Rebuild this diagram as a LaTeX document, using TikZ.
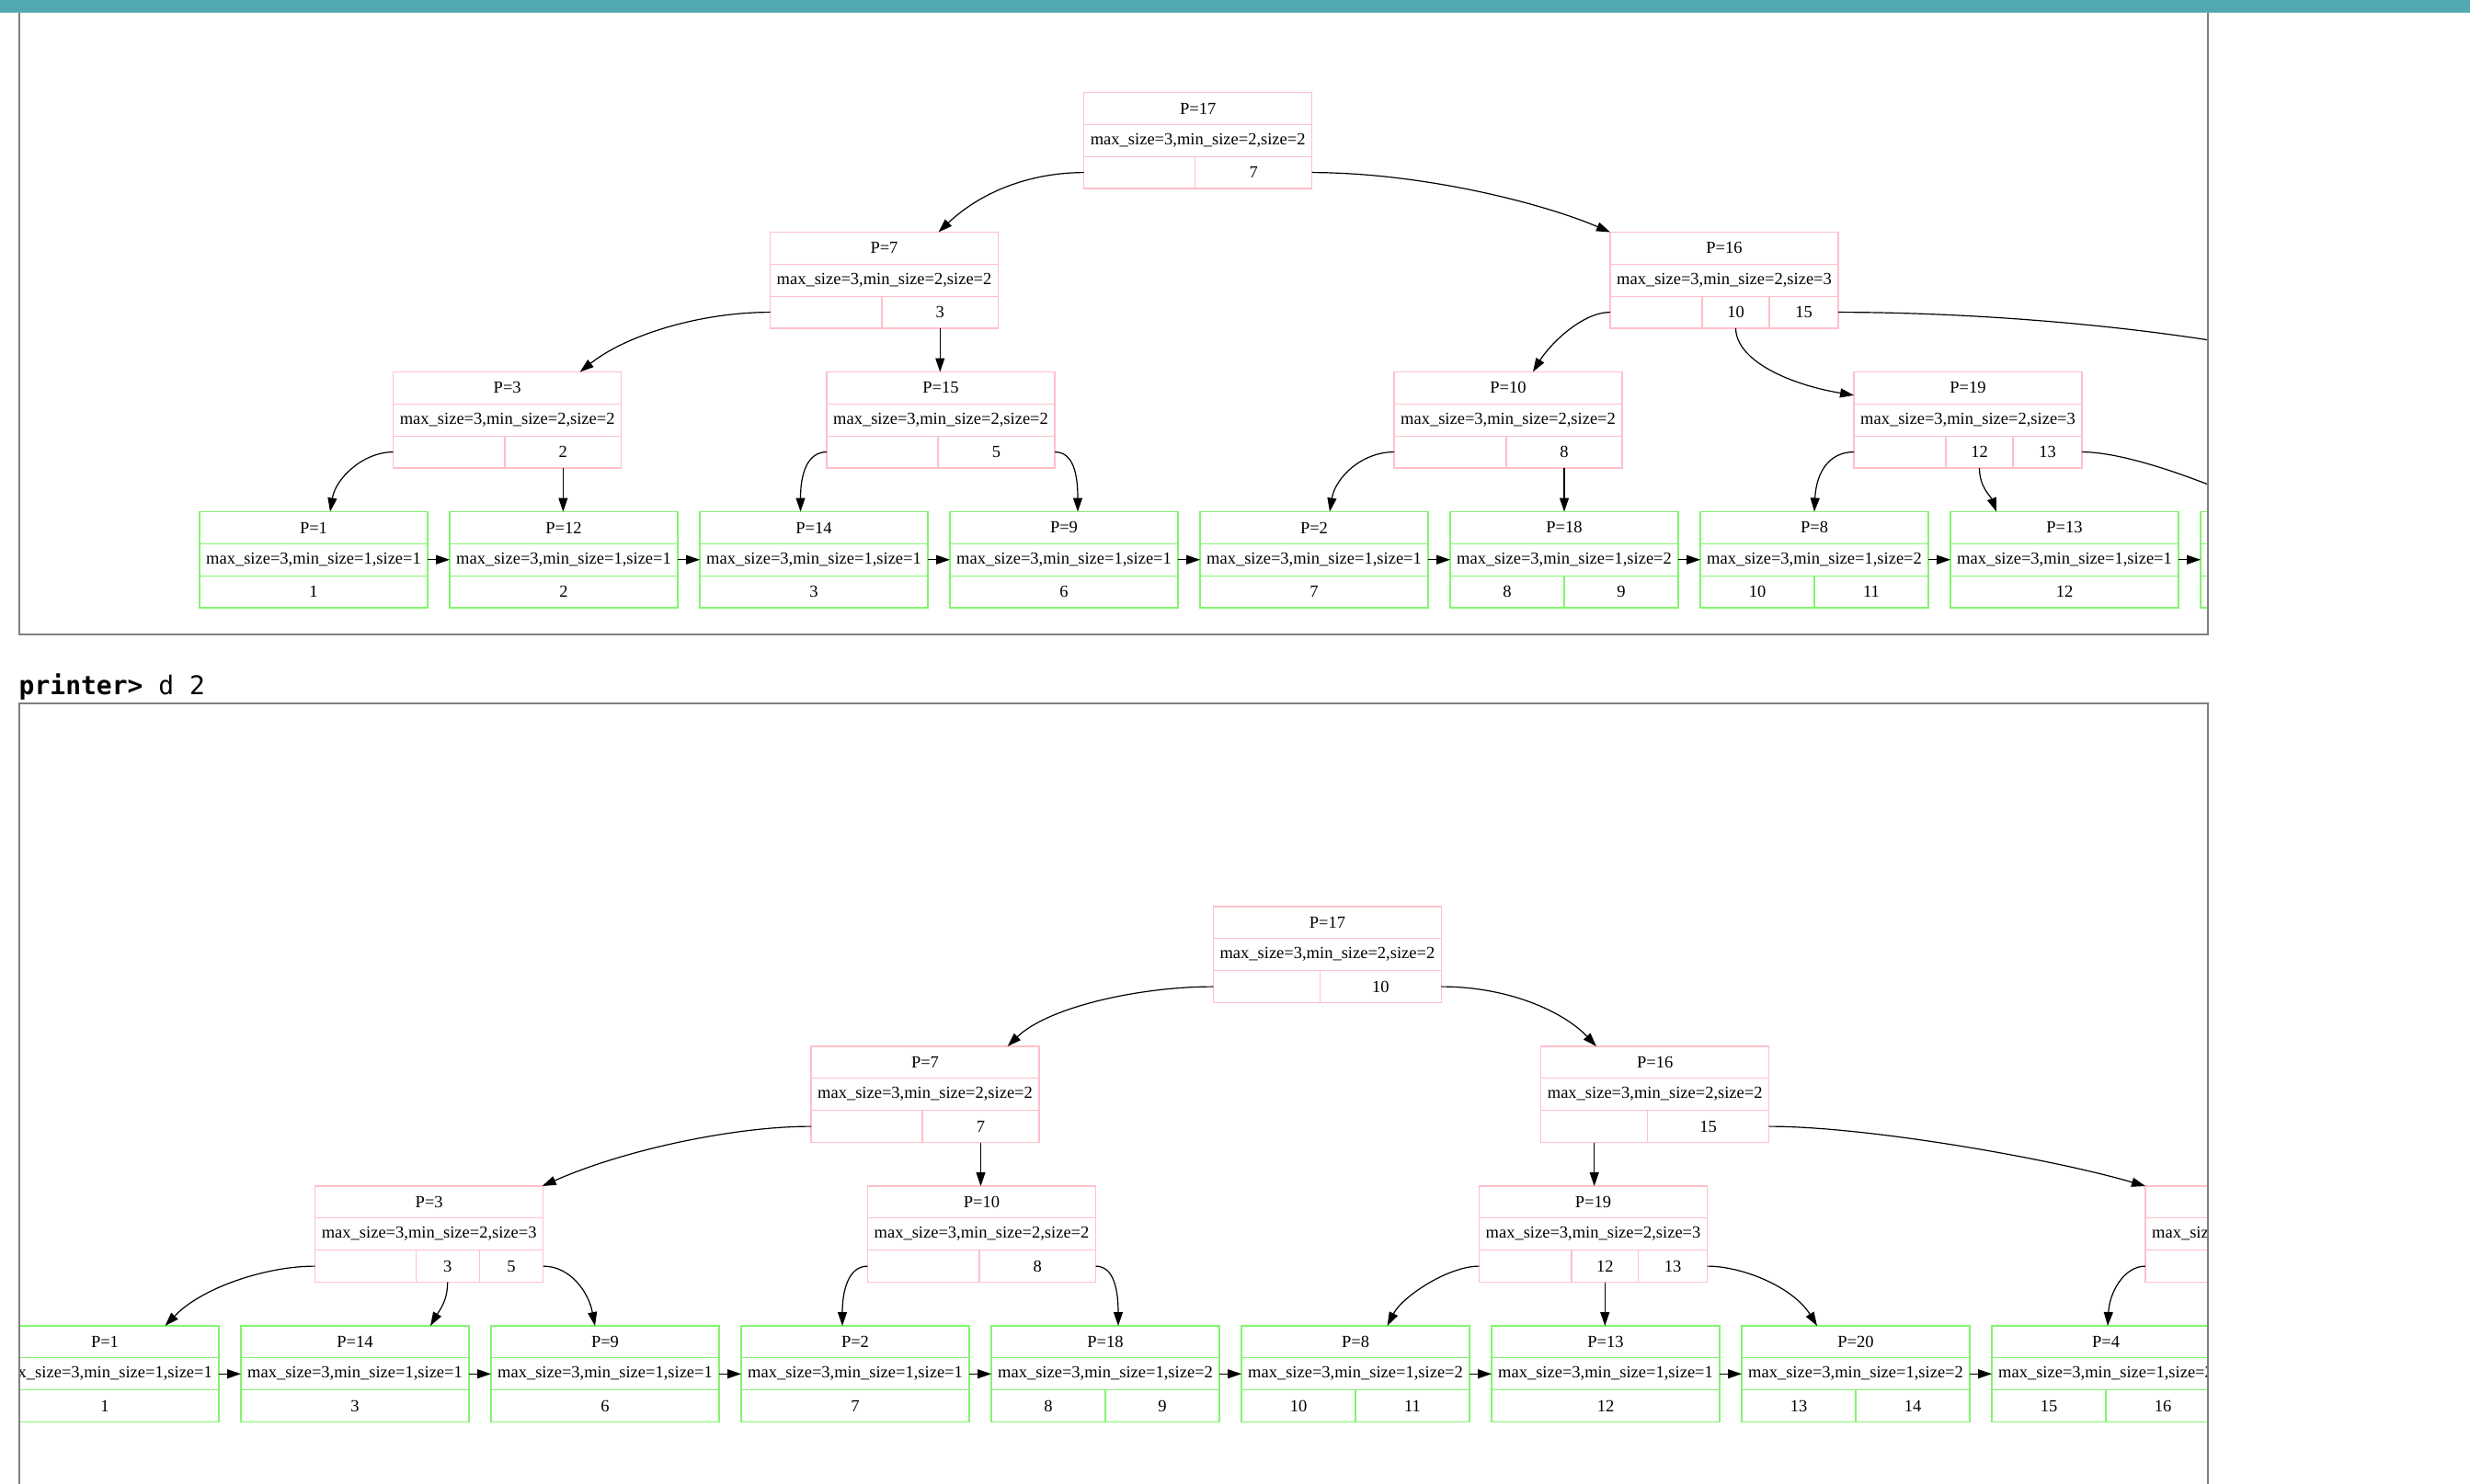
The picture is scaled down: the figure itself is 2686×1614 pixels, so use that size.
\documentclass[tikz,border=0pt]{standalone}
\usepackage{fontspec}
\setmainfont{Liberation Serif}
\newfontfamily\promptfont{DejaVu Sans Mono}
\usetikzlibrary{arrows.meta}
\definecolor{pinkc}{RGB}{255,192,203}
\definecolor{greenc}{RGB}{130,245,110}
\definecolor{framec}{RGB}{128,128,128}
\definecolor{tealc}{RGB}{82,168,176}
\definecolor{teallt}{RGB}{112,186,193}
\newcommand\cellfont{\fontsize{18.5}{20}\selectfont}
\tikzset{
  cellbase/.style={line width=1.2pt, inner sep=0pt, outer sep=0pt, anchor=north west, minimum height=34.83pt, font=\cellfont},
  pc/.style={cellbase, draw=pinkc},
  gc/.style={cellbase, draw=greenc},
  edge/.style={line width=1.2pt, -{Triangle[length=15pt,width=10pt]}},
  framebox/.style={draw=framec, line width=2pt},
}
% generic cell: style, name, x, y, width, text
\newcommand\Cell[6]{\node[#1, minimum width={(#5)*1pt}] (#2) at (#3,#4) {#6};}
% internal node with two key cells: prefix, x, y, P, size, first width, key
\newcommand\InTwo[7]{%
  \Cell{pc}{#1t}{#2}{#3}{248}{P=#4}%
  \Cell{pc}{#1m}{#2}{#3+34.83}{248}{max\_size=3,min\_size=2,size=#5}%
  \Cell{pc}{#1a}{#2}{#3+69.67}{#6}{}%
  \Cell{pc}{#1b}{#2+#6}{#3+69.67}{248-#6}{#7}}
% internal node with three key cells: prefix, x, y, P, size, w1, w2, key1, key2
\newcommand\InThree[9]{%
  \Cell{pc}{#1t}{#2}{#3}{248}{P=#4}%
  \Cell{pc}{#1m}{#2}{#3+34.83}{248}{max\_size=3,min\_size=2,size=#5}%
  \Cell{pc}{#1a}{#2}{#3+69.67}{#6}{}%
  \Cell{pc}{#1b}{#2+#6}{#3+69.67}{#7}{#8}%
  \Cell{pc}{#1c}{#2+#6+#7}{#3+69.67}{248-#6-#7}{#9}}
% leaf with one value: prefix, x, y, P, value
\newcommand\LfOne[5]{%
  \Cell{gc}{#1t}{#2}{#3}{248}{P=#4}%
  \Cell{gc}{#1m}{#2}{#3+34.83}{248}{max\_size=3,min\_size=1,size=1}%
  \Cell{gc}{#1a}{#2}{#3+69.67}{248}{#5}}
% leaf with two values: prefix, x, y, P, v1, v2
\newcommand\LfTwo[6]{%
  \Cell{gc}{#1t}{#2}{#3}{248}{P=#4}%
  \Cell{gc}{#1m}{#2}{#3+34.83}{248}{max\_size=3,min\_size=1,size=2}%
  \Cell{gc}{#1a}{#2}{#3+69.67}{124}{#5}%
  \Cell{gc}{#1b}{#2+124}{#3+69.67}{124}{#6}}
\begin{document}
\begin{tikzpicture}[x=1pt,y=-1pt]
\useasboundingbox (0,0) rectangle (2686,1614);
\fill[white] (0,0) rectangle (2686,1614);

% ================= upper frame =================
\begin{scope}
\clip (21,14) rectangle (2400,689);
\InTwo{a17}{1178.7}{100.5}{17}{2}{121}{7}
\InTwo{a7}{837.5}{252.5}{7}{2}{121.5}{3}
\InThree{a16}{1751}{252.5}{16}{3}{100}{73}{10}{15}
\InTwo{a3}{427.7}{404.5}{3}{2}{121.3}{2}
\InTwo{a15}{899}{404.5}{15}{2}{121}{5}
\InTwo{a10}{1516}{404.5}{10}{2}{122}{8}
\InThree{a19}{2016}{404.5}{19}{3}{100}{73}{12}{13}
\LfOne{aL1}{217}{556.5}{1}{1}
\LfOne{aL12}{489}{556.5}{12}{2}
\LfOne{aL14}{761}{556.5}{14}{3}
\LfOne{aL9}{1033}{556.5}{9}{6}
\LfOne{aL2}{1305}{556.5}{2}{7}
\LfTwo{aL18}{1577}{556.5}{18}{8}{9}
\LfTwo{aL8}{1849}{556.5}{8}{10}{11}
\LfOne{aL13}{2121}{556.5}{13}{12}
\Cell{gc}{aL20t}{2393}{556.5}{248}{}
\Cell{gc}{aL20m}{2393}{591.33}{248}{}
\Cell{gc}{aL20a}{2393}{626.17}{248}{}
\coordinate (a16out) at (2520,392);

\draw[edge] (a17a.west) .. controls (1110,188) and (1060,215) .. ([xshift=59pt]a7t.north);
\draw[edge] (a17b.east) .. controls (1550,188) and (1680,222) .. (a16t.north west);
\draw[edge] (a7a.west) .. controls (760,339.6) and (680,365) .. ([xshift=79pt]a3t.north);
\draw[edge] (a7b.south) -- (a7b.south |- a15t.north);
\draw[edge] (a16a.west) .. controls (1720,339.6) and (1685,375) .. ([xshift=27pt]a10t.north);
\draw[edge] (a16b.south) .. controls (1888,392) and (1945,418) .. ([yshift=-8pt]a19t.west);
\draw[edge] (a16c.east) .. controls (2150,339.6) and (2350,355) .. (a16out);
\draw[edge] (a19c.east) .. controls (2310,491.6) and (2390,520) .. ([xshift=77pt]aL20t.north west);
\draw[edge] (a3a.west) .. controls (395,491.6) and (365,520) .. ([xshift=18pt]aL1t.north);
\draw[edge] (a3b.south) -- (a3b.south |- aL12t.north);
\draw[edge] (a15a.west) .. controls (878,491.6) and (870.5,515) .. ([xshift=-14.5pt]aL14t.north);
\draw[edge] (a15b.east) .. controls (1167,491.6) and (1172,515) .. ([xshift=15pt]aL9t.north);
\draw[edge] (a10a.west) .. controls (1480,491.6) and (1452,520) .. ([xshift=17pt]aL2t.north);
\draw[edge] (a10b.south) -- (a10b.south |- aL18t.north);
\draw[edge] (a19a.west) .. controls (1988,491.6) and (1975,515) .. (aL8t.north);
\draw[edge] (a19b.south) .. controls (2152.5,530) and (2165,540) .. ([xshift=-74pt]aL13t.north);
\foreach \u/\v in {aL1/aL12, aL12/aL14, aL14/aL9, aL9/aL2, aL2/aL18, aL18/aL8, aL8/aL13, aL13/aL20}
  \draw[edge] (\u m.east) -- (\v m.west);
\end{scope}
\draw[framebox] (21,14) -- (21,689.7) -- (2401,689.7) -- (2401,14);

% ================= prompt =================
\node[anchor=base west, inner sep=0pt, font=\promptfont\fontsize{28}{30}\selectfont] (prompt) at (20.5,755) {\textbf{printer>} d 2};

% ================= lower frame =================
\begin{scope}
\clip (22,765.5) rectangle (2400,1614);
\InTwo{b17}{1319.4}{986}{17}{2}{116}{10}
\InTwo{b7}{882}{1138}{7}{2}{121}{7}
\InTwo{b16}{1675.7}{1138}{16}{2}{116}{15}
\InThree{b3}{342.7}{1290}{3}{3}{109.5}{69}{3}{5}
\InTwo{b10}{943.5}{1290}{10}{2}{121.5}{8}
\InThree{b19}{1608.5}{1290}{19}{3}{100.5}{72.5}{12}{13}
\Cell{pc}{bXt}{2333}{1290}{248}{}
\Cell{pc}{bXm}{2333}{1324.83}{248}{max\_size=3,min\_size=2,size=2}
\Cell{pc}{bXa}{2333}{1359.67}{121}{}
\Cell{pc}{bXb}{2454}{1359.67}{127}{}
\LfOne{bL1}{-10}{1442}{1}{1}
\LfOne{bL14}{262}{1442}{14}{3}
\LfOne{bL9}{534}{1442}{9}{6}
\LfOne{bL2}{806}{1442}{2}{7}
\LfTwo{bL18}{1078}{1442}{18}{8}{9}
\LfTwo{bL8}{1350}{1442}{8}{10}{11}
\LfOne{bL13}{1622}{1442}{13}{12}
\LfTwo{bL20}{1894}{1442}{20}{13}{14}
\LfTwo{bL4}{2166}{1442}{4}{15}{16}

\draw[edge] (b17a.west) .. controls (1240,1073) and (1140,1095) .. ([xshift=89.6pt]b7t.north);
\draw[edge] (b17b.east) .. controls (1640,1073) and (1700,1100) .. ([xshift=-63.7pt]b16t.north);
\draw[edge] (b7a.west) .. controls (800,1225) and (680,1250) .. ([xshift=-1pt]b3t.north east);
\draw[edge] (b7b.south) -- (b7b.south |- b10t.north);
\draw[edge] (b16a.south) -- (b16a.south |- b19t.north);
\draw[edge] (b16b.east) .. controls (2030,1225) and (2230,1260) .. (bXt.north west);
\draw[edge] (b3a.west) .. controls (290,1377) and (220,1400) .. ([xshift=65.5pt]bL1t.north);
\draw[edge] (b3b.south) .. controls (486.7,1415) and (478,1425) .. ([xshift=82pt]bL14t.north);
\draw[edge] (b3c.east) .. controls (620,1377) and (640,1405) .. ([xshift=-11pt]bL9t.north);
\draw[edge] (b10a.west) .. controls (922,1377) and (916,1405) .. ([xshift=-14pt]bL2t.north);
\draw[edge] (b10b.east) .. controls (1212,1377) and (1216,1405) .. ([xshift=14pt]bL18t.north);
\draw[edge] (b19a.west) .. controls (1575,1377) and (1525,1410) .. ([xshift=34.6pt]bL8t.north);
\draw[edge] (b19b.south) -- (b19b.south |- bL13t.north);
\draw[edge] (b19c.east) .. controls (1895,1377) and (1950,1400) .. ([xshift=-42pt]bL20t.north);
\draw[edge] (bXa.west) .. controls (2310,1377) and (2294,1405) .. ([xshift=2pt]bL4t.north);
\foreach \u/\v in {bL1/bL14, bL14/bL9, bL9/bL2, bL2/bL18, bL18/bL8, bL8/bL13, bL13/bL20, bL20/bL4}
  \draw[edge] (\u m.east) -- (\v m.west);
\end{scope}
\draw[framebox] (21,1614) -- (21,764.5) -- (2401,764.5) -- (2401,1614);

% ================= top bar =================
\fill[tealc] (0,0) rectangle (2686,12.5);
\fill[teallt] (0,12.5) rectangle (2686,14);
\end{tikzpicture}
\end{document}
